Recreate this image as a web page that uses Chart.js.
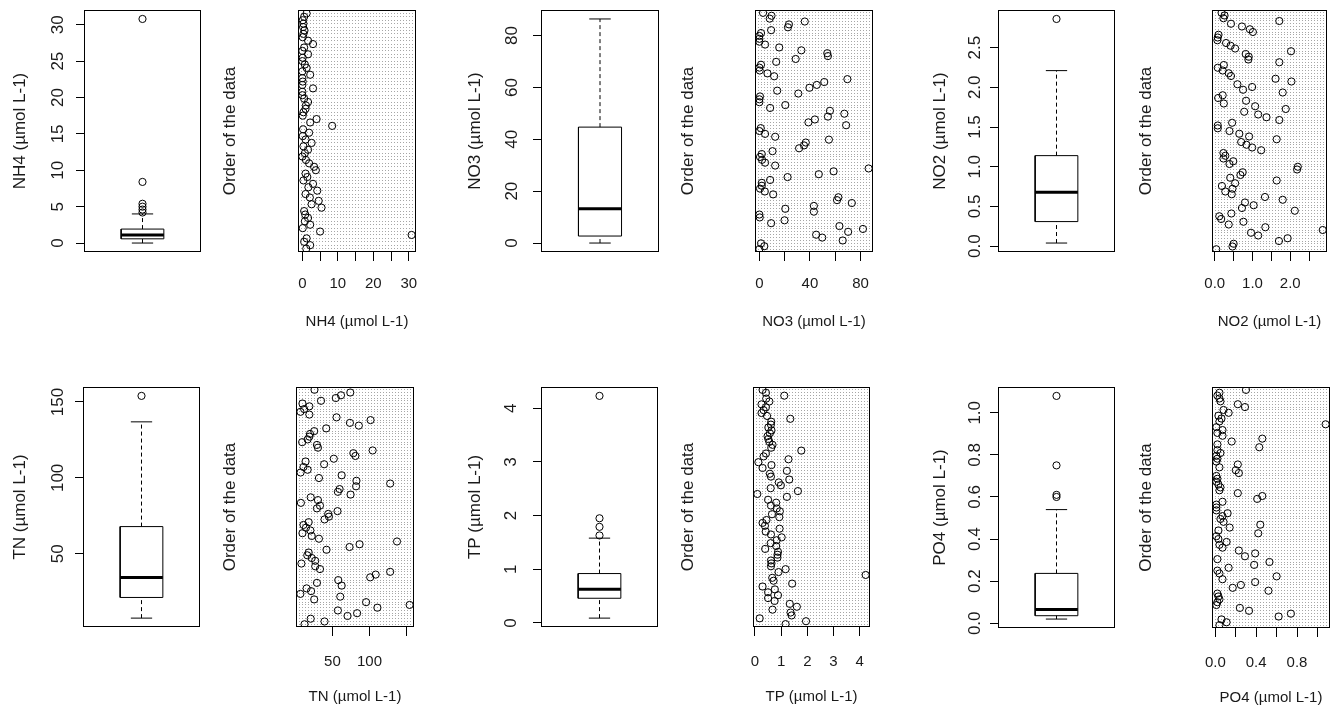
<!DOCTYPE html>
<html>
<head>
<meta charset="utf-8">
<script src="https://cdn.jsdelivr.net/npm/chart.js@4.4.1/dist/chart.umd.min.js"></script>
<style>
  body { margin: 0; background: #fff; }
  #wrap { position: relative; width: 1335px; height: 706px; overflow: hidden; background: #fff; }
  #wrap canvas { position: absolute; }
</style>
</head>
<body>
<div id="wrap"></div>
<script>
// ---- hodnoty ----
const titles = ["NH4 (µmol L-1)", "NO3 (µmol L-1)", "NO2 (µmol L-1)", "TN (µmol L-1)", "TP (µmol L-1)", "PO4 (µmol L-1)"];

// boxplot: [dolní vous, Q1, medián, Q3, horní vous]
const nh4Box = [0.0, 0.58, 1.1, 1.92, 4.0];
const no3Box = [0.0, 2.7, 13.2, 44.7, 86.4];
const no2Box = [0.04, 0.31, 0.68, 1.14, 2.21];
const tnBox = [7.6, 21.2, 34.3, 67.9, 136.9];
const tpBox = [0.09, 0.46, 0.63, 0.92, 1.58];
const po4Box = [0.02, 0.036, 0.066, 0.237, 0.54];

const nh4Out = [4.2, 4.6, 5.0, 5.4, 8.4, 30.8];
const no3Out = [];
const no2Out = [2.86];
const tnOut = [154.0];
const tpOut = [1.63, 1.79, 1.95, 4.23];
const po4Out = [0.60, 0.61, 0.75, 1.08];

// dotchart: hodnoty shora dolů
const nh4 = [1.2, 0.5, 0.1, 0.3, 0.2, 0.6, 0.3, 0.1, 1.6, 3.0, 0.5, 0.0, 1.6, 0.1, 0.0, 0.7, 1.2, 0.0, 2.2, 0.0,
  0.1, 0.0, 3.0, 0.0, 0.0, 0.5, 1.6, 1.0, 0.9, 0.3, 0.1, 4.0, 2.2, 8.4, 0.2, 1.9, 0.1, 0.9, 2.6, 0.3,
  1.6, 0.7, 0.0, 1.0, 1.9, 3.3, 3.8, 0.9, 1.4, 0.3, 3.0, 1.7, 4.2, 0.9, 2.1, 4.6, 2.6, 5.4, 0.5, 0.8,
  1.6, 0.7, 2.2, 0.1, 5.0, 30.8, 1.2, 0.5, 2.2, 1.1];
const no3 = [2.9, 9.6, 8.2, 35.9, 23.4, 22.6, 9.3, 1.3, 0, 0, 0, 4.5, 15.7, 33.2, 53.7, 54.2, 28.7, 13.3, 1.3, 0,
  0.3, 6.4, 11.7, 69.6, 51.3, 45.4, 39.6, 14.1, 30.8, 0.5, 0, 0, 20.5, 8.5, 55.8, 67.2, 54.2, 43.9, 38.8, 68.6,
  1.1, 0, 4.5, 12.5, 55.0, 36.7, 35.3, 31.4, 10.4, 1.9, 0.5, 2.1, 4.5, 12.5, 86.4, 58.7, 47.0, 22.3, 8.5, 1.9,
  1.9, 0.5, 4.3, 10.9, 62.5, 61.4, 73.1, 43.1, 20.5, 43.1, 0, 0.3, 19.9, 9.3, 63.3, 81.9, 70.2, 44.9, 49.7, 65.9,
  1.3, 3.9, 0];
const no2 = [0.18, 0.26, 0.23, 1.71, 0.43, 0.72, 0.93, 1.01, 0.10, 0.08, 0.07, 0.30, 0.42, 0.54, 2.02, 0.82, 0.90, 0.89, 1.71, 0.24,
  0.08, 0.21, 0.37, 0.43, 1.61, 2.03, 0.60, 0.99, 0.75, 1.80, 0.21, 0.09, 0.83, 0.24, 1.07, 1.88, 0.78, 1.15, 1.37, 1.71,
  0.46, 0.08, 0.08, 0.39, 0.65, 0.91, 1.64, 0.70, 0.84, 0.99, 1.23, 0.23, 0.28, 0.23, 0.49, 0.39, 2.20, 2.18, 0.74, 0.68,
  0.41, 1.64, 0.54, 0.19, 0.47, 0.28, 0.45, 1.33, 1.80, 0.80, 1.03, 0.72, 2.12, 0.44, 0.12, 0.17, 0.76, 0.37, 1.34, 2.86,
  0.96, 1.15, 1.93, 1.70, 0.50, 0.47, 0.04];
const tn = [25.9, 74.1, 61.6, 54.6, 34.7, 9.7, 19.0, 12.0, 7.0, 19.0, 55.6, 101.4, 73.6, 85.6, 41.7, 25.5, 19.9, 19.0, 16.7, 9.3,
  29.2, 30.6, 104.2, 78.2, 81.0, 51.9, 13.9, 38.9, 11.1, 16.7, 7.2, 62.5, 31.9, 82.4, 127.8, 81.9, 59.7, 57.4, 74.5, 20.8,
  30.6, 7.6, 33.3, 29.2, 56.9, 44.4, 45.4, 39.4, 18.1, 11.1, 14.4, 20.4, 9.7, 22.2, 31.9, 137.0, 86.6, 73.1, 42.1, 18.1,
  16.2, 22.2, 26.9, 8.3, 26.9, 33.3, 127.8, 108.3, 100.9, 57.9, 29.2, 62.5, 15.3, 21.3, 6.9, 60.6, 25.5, 95.4, 154.0, 110.6,
  57.4, 83.3, 70.4, 20.8, 39.4, 12.5];
const tp = [0.29, 0.42, 1.12, 0.43, 0.55, 0.25, 0.42, 0.33, 0.25, 0.46, 1.35, 0.62, 0.61, 0.51, 0.63, 0.57, 0.48, 0.51, 0.55, 0.67,
  0.62, 1.77, 0.42, 0.33, 1.28, 0.13, 0.63, 0.29, 1.22, 0.57, 0.61, 1.31, 0.91, 0.99, 0.60, 1.64, 0.09, 1.22, 0.50, 0.81,
  0.61, 0.83, 0.95, 0.65, 0.93, 0.44, 0.29, 0.38, 0.94, 0.41, 0.61, 1.02, 0.83, 0.60, 0.81, 0.39, 0.88, 0.86, 0.86, 0.61,
  0.63, 0.61, 1.17, 0.90, 4.23, 0.66, 0.71, 1.42, 0.29, 0.76, 0.50, 0.88, 0.50, 0.75, 1.33, 1.60, 0.67, 1.36, 1.40, 0.18,
  1.95, 1.17];
const po4 = [0.30, 0.04, 0.02, 0.04, 0.05, 0.22, 0.29, 0.08, 0.13, 0.03, 0.06, 0.04, 1.08, 0.01, 0.07, 0.02, 0.07, 0.46, 0.16, 0.02,
  0.43, 0.02, 0.05, 0.01, 0.02, 0.01, 0.22, 0.04, 0.20, 0.23, 0.01, 0.02, 0.01, 0.03, 0.05, 0.04, 0.22, 0.46, 0.41, 0.07,
  0.01, 0.01, 0.01, 0.12, 0.07, 0.05, 0.08, 0.44, 0.14, 0.03, 0.42, 0.01, 0.03, 0.11, 0.04, 0.07, 0.23, 0.39, 0.29, 0.02,
  0.53, 0.38, 0.13, 0.02, 0.04, 0.60, 0.07, 0.39, 0.25, 0.17, 0.52, 0.02, 0.03, 0.04, 0.02, 0.01, 0.24, 0.33, 0.74, 0.62,
  0.06, 0.11, 0.04];

// osy
const nh4BoxTicks = [0, 5, 10, 15, 20, 25, 30];
const nh4BoxLabels = ["0", "5", "10", "15", "20", "25", "30"];
const no3BoxTicks = [0, 20, 40, 60, 80];
const no3BoxLabels = ["0", "20", "40", "60", "80"];
const no2BoxTicks = [0, 0.5, 1, 1.5, 2, 2.5];
const no2BoxLabels = ["0.0", "0.5", "1.0", "1.5", "2.0", "2.5"];
const tnBoxTicks = [50, 100, 150];
const tnBoxLabels = ["50", "100", "150"];
const tpBoxTicks = [0, 1, 2, 3, 4];
const tpBoxLabels = ["0", "1", "2", "3", "4"];
const po4BoxTicks = [0, 0.2, 0.4, 0.6, 0.8, 1.0];
const po4BoxLabels = ["0.0", "0.2", "0.4", "0.6", "0.8", "1.0"];

const nh4DotTicks = [0, 5, 10, 15, 20, 25, 30];
const nh4DotLabels = ["0", "", "10", "", "20", "", "30"];
const no3DotTicks = [0, 20, 40, 60, 80];
const no3DotLabels = ["0", "", "40", "", "80"];
const no2DotTicks = [0, 0.5, 1, 1.5, 2, 2.5];
const no2DotLabels = ["0.0", "", "1.0", "", "2.0", ""];
const tnDotTicks = [50, 100, 150];
const tnDotLabels = ["50", "100", ""];
const tpDotTicks = [0, 1, 2, 3, 4];
const tpDotLabels = ["0", "1", "2", "3", "4"];
const po4DotTicks = [0, 0.2, 0.4, 0.6, 0.8, 1.0];
const po4DotLabels = ["0.0", "", "0.4", "", "0.8", ""];

// ---- vykreslení ----
const VFONT = 17, HFONT = 15;
const FAMILY = "'Liberation Sans', Arial, sans-serif";
const INK = "#1a1a1a";
Chart.defaults.font.family = FAMILY;
Chart.defaults.color = INK;

const wrap = document.getElementById("wrap");
const measure = document.createElement("canvas").getContext("2d");

function makeCanvas(left, top, w, h) {
  const c = document.createElement("canvas");
  c.width = w; c.height = h;
  c.style.left = left + "px"; c.style.top = top + "px";
  c.style.width = w + "px"; c.style.height = h + "px";
  wrap.appendChild(c);
  return c;
}

// R rozšiřuje rozsah os o 4 %
function ext(vals) {
  const lo = Math.min(...vals), hi = Math.max(...vals);
  const d = (hi - lo) * 0.04;
  return [lo - d, hi + d];
}

const framePlugin = {
  id: "frame",
  afterDraw(chart) {
    const a = chart.chartArea, ctx = chart.ctx;
    ctx.save();
    ctx.strokeStyle = "#000";
    ctx.lineWidth = 1;
    ctx.strokeRect(a.left + 0.5, a.top + 0.5, a.right - a.left - 1, a.bottom - a.top - 1);
    ctx.restore();
  }
};

const baseOpts = {
  responsive: false, animation: false, devicePixelRatio: 1, events: [],
  plugins: { legend: { display: false }, tooltip: { enabled: false } }
};

const PR = 3.6; // poloměr kroužku

function seg(pts, w, dash) {
  return { data: pts, showLine: true, borderColor: "#000", borderWidth: w, borderDash: dash || [],
    borderCapStyle: "butt", pointRadius: 0, tension: 0, fill: false };
}

function boxPanel(p) {
  const L = p.left - 80, T = p.top - 15;
  const c = makeCanvas(L, T, p.right - L + 5, p.bottom - p.top + 30);
  const s = p.stats;
  const [ymin, ymax] = ext(s.concat(p.out));
  const b0 = 0.3175, b1 = 0.6825, c0 = 0.409, c1 = 0.591, m = 0.5;

  measure.font = VFONT + "px " + FAMILY;
  const widest = Math.max(...p.labels.map(t => measure.measureText(t).width));
  const tickPad = p.labelDist - 8 - widest / 2;

  new Chart(c, {
    type: "scatter",
    data: { datasets: [
      seg([{x: b0, y: s[1]}, {x: b1, y: s[1]}, {x: b1, y: s[3]}, {x: b0, y: s[3]}, {x: b0, y: s[1]}], 1),
      seg([{x: b0, y: s[2]}, {x: b1, y: s[2]}], 3),
      seg([{x: m, y: s[0]}, {x: m, y: s[1]}], 1, [4, 3]),
      seg([{x: m, y: s[3]}, {x: m, y: s[4]}], 1, [4, 3]),
      seg([{x: c0, y: s[0]}, {x: c1, y: s[0]}], 1),
      seg([{x: c0, y: s[4]}, {x: c1, y: s[4]}], 1),
      { data: p.out.map(v => ({x: m, y: v})), pointRadius: PR, pointBorderWidth: 1,
        pointBorderColor: "#000", pointBackgroundColor: "rgba(0,0,0,0)", showLine: false }
    ]},
    options: Object.assign({}, baseOpts, {
      layout: { padding: { top: 15, bottom: 15, left: 0, right: 5 } },
      scales: {
        x: { display: false, min: 0, max: 1 },
        y: {
          min: ymin, max: ymax,
          afterFit: sc => { sc.width = 80; sc.paddingTop = 0; sc.paddingBottom = 0; },
          afterBuildTicks: sc => { sc.ticks = p.ticks.map(v => ({ value: v })); },
          ticks: { callback: (v, i) => p.labels[i], minRotation: 90, maxRotation: 90, crossAlign: "center",
            padding: tickPad, autoSkip: false, font: { size: VFONT }, color: INK },
          grid: { drawOnChartArea: false, drawTicks: true, tickLength: 8, color: "#000" },
          border: { display: false },
          title: { display: true, text: p.title, color: INK, font: { size: VFONT },
            padding: { top: 80 - p.titleDist - VFONT * 0.6, bottom: 0 } }
        }
      }
    }),
    plugins: [framePlugin]
  });
}

function dotPanel(p) {
  const L = p.left - 80, T = p.top - 5;
  const c = makeCanvas(L, T, p.right - L + 10, p.bottom - T + 80);
  const n = p.values.length;
  const [xmin, xmax] = ext(p.values);

  new Chart(c, {
    type: "scatter",
    data: { datasets: [
      { data: p.values.map((v, i) => ({ x: v, y: n - i })), pointRadius: PR, pointBorderWidth: 1,
        pointBorderColor: "#000", pointBackgroundColor: "rgba(0,0,0,0)" }
    ]},
    options: Object.assign({}, baseOpts, {
      layout: { padding: { top: 5, bottom: 0, left: 0, right: 10 } },
      scales: {
        x: {
          min: xmin, max: xmax,
          afterFit: sc => { sc.height = 80; sc.paddingLeft = 0; sc.paddingRight = 0; },
          afterBuildTicks: sc => { sc.ticks = p.ticks.map(v => ({ value: v })); },
          ticks: { callback: (v, i) => p.labels[i], maxRotation: 0, minRotation: 0, autoSkip: false,
            padding: p.labelDist - 9 - HFONT * 0.6, font: { size: HFONT }, color: INK },
          grid: { drawOnChartArea: false, drawTicks: true, tickLength: 9, color: "#000" },
          border: { display: false },
          title: { display: true, text: p.title, color: INK, font: { size: HFONT },
            padding: { top: 0, bottom: 80 - p.titleDist - HFONT * 0.6 } }
        },
        y: {
          min: 0, max: n + 1,
          afterFit: sc => { sc.width = 80; },
          ticks: { display: false, stepSize: 1 },
          grid: { drawTicks: false, lineWidth: 1,
            color: ctx => (ctx.tick && ctx.tick.value >= 1 && ctx.tick.value <= n) ? "#a6a6a6" : "rgba(0,0,0,0)" },
          border: { display: false, dash: [1, 2] },
          title: { display: true, text: "Order of the data", color: INK, font: { size: VFONT },
            padding: { top: 80 - p.orderDist - VFONT * 0.6, bottom: 0 } }
        }
      }
    }),
    plugins: [framePlugin]
  });
}

// rozmístění panelů (2 řádky x 6 sloupců)
boxPanel({ left: 84, right: 201, top: 10, bottom: 252, stats: nh4Box, out: nh4Out, ticks: nh4BoxTicks, labels: nh4BoxLabels, title: titles[0], labelDist: 26, titleDist: 64 });
dotPanel({ left: 298, right: 416, top: 10, bottom: 252, values: nh4, ticks: nh4DotTicks, labels: nh4DotLabels, title: titles[0], labelDist: 32, titleDist: 70, orderDist: 68 });
boxPanel({ left: 541, right: 659, top: 10, bottom: 252, stats: no3Box, out: no3Out, ticks: no3BoxTicks, labels: no3BoxLabels, title: titles[1], labelDist: 29, titleDist: 66 });
dotPanel({ left: 755, right: 873, top: 10, bottom: 252, values: no3, ticks: no3DotTicks, labels: no3DotLabels, title: titles[1], labelDist: 32, titleDist: 70, orderDist: 67 });
boxPanel({ left: 998, right: 1115, top: 10, bottom: 252, stats: no2Box, out: no2Out, ticks: no2BoxTicks, labels: no2BoxLabels, title: titles[2], labelDist: 23, titleDist: 58 });
dotPanel({ left: 1212, right: 1327, top: 10, bottom: 252, values: no2, ticks: no2DotTicks, labels: no2DotLabels, title: titles[2], labelDist: 32, titleDist: 70, orderDist: 66 });

boxPanel({ left: 83, right: 200, top: 387, bottom: 627, stats: tnBox, out: tnOut, ticks: tnBoxTicks, labels: tnBoxLabels, title: titles[3], labelDist: 25, titleDist: 63 });
dotPanel({ left: 296, right: 414, top: 387, bottom: 627, values: tn, ticks: tnDotTicks, labels: tnDotLabels, title: titles[3], labelDist: 35, titleDist: 70, orderDist: 66 });
boxPanel({ left: 541, right: 658, top: 387, bottom: 627, stats: tpBox, out: tpOut, ticks: tpBoxTicks, labels: tpBoxLabels, title: titles[4], labelDist: 30, titleDist: 66 });
dotPanel({ left: 753, right: 870, top: 387, bottom: 627, values: tp, ticks: tpDotTicks, labels: tpDotLabels, title: titles[4], labelDist: 35, titleDist: 70, orderDist: 65 });
boxPanel({ left: 998, right: 1115, top: 387, bottom: 628, stats: po4Box, out: po4Out, ticks: po4BoxTicks, labels: po4BoxLabels, title: titles[5], labelDist: 23, titleDist: 58 });
dotPanel({ left: 1212, right: 1330, top: 387, bottom: 628, values: po4, ticks: po4DotTicks, labels: po4DotLabels, title: titles[5], labelDist: 35, titleDist: 70, orderDist: 66 });
</script>
</body>
</html>
